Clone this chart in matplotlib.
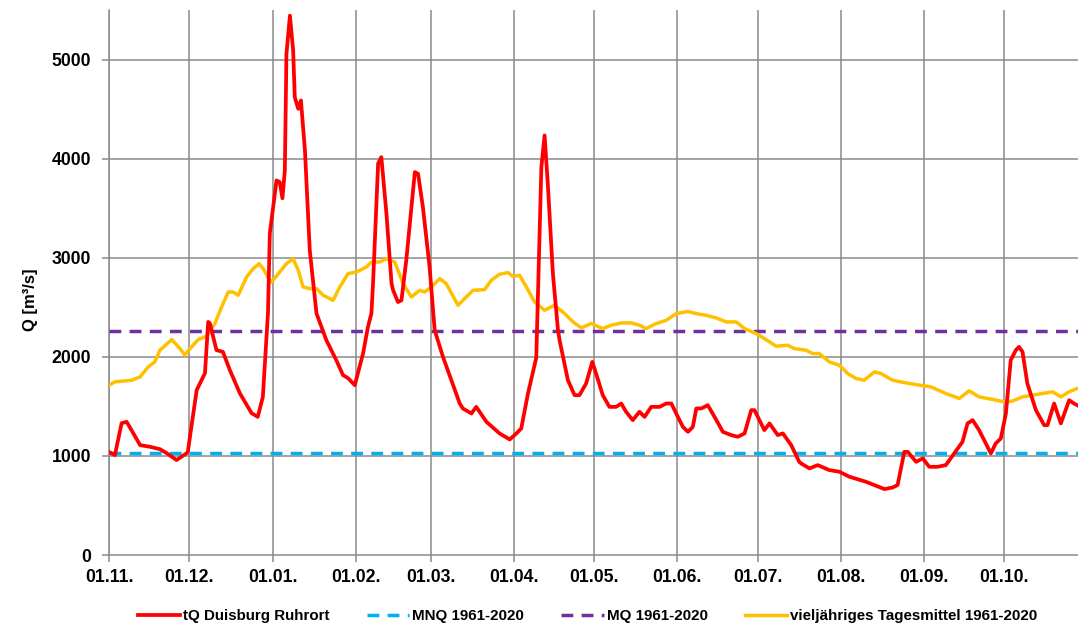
import matplotlib
matplotlib.use("Agg")
import matplotlib.pyplot as plt
import numpy as np

# ---- data ----
month_labels = ["01.11.", "01.12.", "01.01.", "01.02.", "01.03.", "01.04.",
                "01.05.", "01.06.", "01.07.", "01.08.", "01.09.", "01.10."]
month_days = [0, 30, 61, 92, 120, 151, 181, 212, 242, 273, 304, 334]

red_day = [0, 2.2, 4.7, 6.6, 11.6, 15.3, 19.0, 21.5, 25.2, 29.0, 29.4, 32.7, 35.8, 37.0,
           37.6, 40.1, 42.5, 45.1, 48.8, 53.2, 55.5, 57.4, 59.3, 60.0, 62.5, 63.7, 64.7,
           65.6, 66.2, 67.5, 68.7, 69.3, 70.6, 71.6, 73.1, 74.9, 77.4, 81.1, 84.8, 87.3,
           89.2, 91.7, 94.8, 96.6, 97.9, 98.5, 100.4, 101.6, 103.5, 105.4, 106.0, 107.8,
           109.1, 110.9, 114.1, 115.3, 117.1, 119.6, 121.5, 124.6, 127.7, 130.8, 132.0,
           135.2, 137.0, 140.8, 145.7, 149.5, 152.0, 153.8, 156.3, 159.4, 161.3, 162.5,
           163.7, 165.6, 167.5, 168.1, 171.2, 173.7, 175.5, 178.0, 180.3, 181.7, 184.2,
           186.7, 189.2, 191.1, 192.9, 195.4, 197.9, 199.8, 202.3, 205.4, 207.9, 209.8,
           211.6, 214.1, 216.0, 217.8, 219.1, 221.0, 223.4, 226.6, 229.0, 232.1, 234.6,
           237.1, 239.6, 240.8, 244.5, 246.4, 249.5, 251.4, 254.5, 257.5, 258.2, 261.3,
           264.4, 268.7, 272.5, 276.2, 282.4, 285.5, 289.3, 292.4, 294.2, 296.7, 298.0,
           301.1, 303.6, 306.0, 309.1, 312.2, 316.6, 318.4, 320.3, 322.2, 324.6, 329.0,
           330.8, 332.7, 334.6, 336.4, 338.3, 339.5, 340.8, 342.6, 345.8, 348.9, 350.1,
           352.6, 355.1, 358.2, 360.0, 361.2]
red_q = [1040, 1008, 1330, 1344, 1109, 1092, 1068, 1028, 958, 1028, 1041, 1663, 1835, 2352,
         2340, 2067, 2050, 1865, 1633, 1431, 1394, 1596, 2439, 3246, 3780, 3763, 3600,
         3881, 5057, 5443, 5091, 4620, 4503, 4587, 4083, 3075, 2439, 2167, 1966, 1815,
         1784, 1714, 2036, 2301, 2439, 2742, 3951, 4015, 3447, 2742, 2671, 2553,
         2570, 2974, 3864, 3847, 3511, 2906, 2268, 1999, 1764, 1532, 1479,
         1428, 1495, 1344, 1227, 1166, 1227, 1277, 1630, 1990, 3914, 4234,
         3747, 2840, 2268, 2167, 1764, 1613, 1613, 1731, 1949, 1832, 1613,
         1495, 1495, 1529, 1445, 1361, 1445, 1394, 1495, 1495, 1529, 1529,
         1428, 1293, 1243, 1293, 1479, 1479, 1512, 1361, 1243, 1210, 1193,
         1227, 1462, 1462, 1260, 1328, 1210, 1227, 1109, 940, 924, 874,
         907, 857, 840, 790, 739, 706, 665, 682, 706, 1041, 1041,
         940, 975, 890, 890, 907, 1075, 1142, 1328, 1361, 1260, 1025,
         1126, 1176, 1428, 1966, 2067, 2100, 2050, 1731, 1462, 1310, 1310,
         1529, 1328, 1562, 1529, 1512]

yel_day = [0, 2.2, 8.5, 11.6, 14.6, 17.1, 19.0, 23.4, 26.5, 28.3, 30.2, 33.3, 36.4, 39.5,
           42.0, 44.5, 46.3, 48.2, 51.3, 53.8, 56.0, 57.5, 60.0, 60.6, 63.7, 66.2, 68.7,
           70.6, 72.4, 74.9, 77.4, 79.9, 83.6, 86.1, 89.2, 92.3, 96.0, 97.9, 101.0, 103.5,
           106.6, 109.7, 112.8, 115.9, 117.8, 120.3, 123.4, 125.8, 130.2, 132.7, 135.8,
           140.1, 142.6, 145.7, 148.8, 150.7, 153.2, 155.7, 158.8, 162.5, 166.2, 170.0,
           173.1, 176.2, 179.9, 184.2, 187.4, 191.1, 194.8, 197.9, 200.4, 203.5, 207.9,
           211.6, 215.9, 219.1, 222.8, 226.6, 230.3, 234.0, 237.1, 241.4, 244.5, 248.9,
           253.2, 255.7, 260.0, 262.5, 265.0, 268.7, 272.5, 275.6, 278.7, 281.8, 285.5,
           288.0, 292.3, 297.3, 302.3, 306.6, 312.2, 317.2, 320.9, 324.6, 329.6, 334.0,
           337.0, 340.8, 344.5, 348.3, 352.0, 355.1, 358.2, 361.2]
yel_q = [1714, 1747, 1764, 1797, 1898, 1949, 2067, 2174, 2083, 2016, 2083, 2174, 2208, 2336,
         2503, 2654, 2654, 2621, 2805, 2890, 2940, 2890, 2772, 2755, 2856, 2940, 2990,
         2873, 2705, 2688, 2688, 2621, 2570, 2705, 2840, 2856, 2906, 2957, 2957, 2990,
         2957, 2739, 2604, 2671, 2654, 2705, 2789, 2739, 2520, 2588, 2671,
         2678, 2772, 2833, 2850, 2812, 2822, 2705, 2553, 2470, 2520, 2436,
         2352, 2292, 2336, 2285, 2319, 2342, 2342, 2319, 2285, 2329, 2369,
         2436, 2457, 2436, 2419, 2392, 2352, 2352, 2285, 2235, 2184, 2107,
         2117, 2083, 2067, 2033, 2033, 1949, 1915, 1831, 1781, 1764, 1848,
         1831, 1764, 1737, 1714, 1697, 1630, 1580, 1657, 1596, 1570, 1546,
         1553, 1596, 1613, 1630, 1647, 1596, 1647, 1680]

mnq_value = 1030
mq_value = 2260
y_ticks = [0, 1000, 2000, 3000, 4000, 5000]

# ---- figure ----
plt.rcParams['font.family'] = ['Liberation Sans', 'DejaVu Sans']
fig = plt.figure(figsize=(10.78, 6.28), dpi=100)
ax = fig.add_axes([109/1078, 73/628, (1078-109)/1078, (555-10)/628])

x_max = 361.5
grid_c = "#8a8a8a"
for d in month_days:
    ax.axvline(d, color=grid_c, lw=1.1, zorder=1)
for t in y_ticks[1:]:
    ax.axhline(t, color=grid_c, lw=1.1, zorder=1)

ax.plot(red_day, red_q, color="#FF0000", lw=2.7, zorder=5, label="tQ Duisburg Ruhrort",
        solid_joinstyle="round")
ax.plot([0, x_max], [mnq_value, mnq_value], color="#00B0F0", lw=2.5, dashes=(3.4, 2.4),
        zorder=3, label="MNQ 1961-2020")
ax.plot([0, x_max], [mq_value, mq_value], color="#7030A0", lw=2.5, dashes=(3.4, 2.4),
        zorder=3, label="MQ 1961-2020")
ax.plot(yel_day, yel_q, color="#FFC000", lw=2.5, zorder=4,
        label="vieljähriges Tagesmittel 1961-2020", solid_joinstyle="round")

ax.set_xlim(0, x_max)
ax.set_ylim(0, 5500)
ax.set_xticks(month_days)
ax.set_xticklabels(month_labels)
ax.set_yticks(y_ticks)
ax.set_yticklabels([str(t) for t in y_ticks])

for s in ["top", "right"]:
    ax.spines[s].set_visible(False)
for s in ["left", "bottom"]:
    ax.spines[s].set_color(grid_c)
    ax.spines[s].set_linewidth(1.1)
ax.tick_params(axis="both", colors=grid_c, length=5, width=1.1, direction="out")
ax.tick_params(axis="both", labelcolor="black", labelsize=12.7)
ax.tick_params(axis="x", pad=5)
ax.tick_params(axis="y", pad=8)
for lab in ax.get_xticklabels() + ax.get_yticklabels():
    lab.set_fontweight("bold")

fig.text(30/1078, 1 - 300/628, "Q [m³/s]", rotation=90, ha="center", va="center",
         fontsize=12, fontweight="bold")

fig.legend(loc="center", bbox_to_anchor=(0.545, 1 - 616/628), ncol=4, frameon=False,
           prop={"weight": "bold", "size": 10.9}, handlelength=2.8, handletextpad=0.2,
           columnspacing=2.45, borderpad=0.2)

fig.savefig("out.png", dpi=100)
